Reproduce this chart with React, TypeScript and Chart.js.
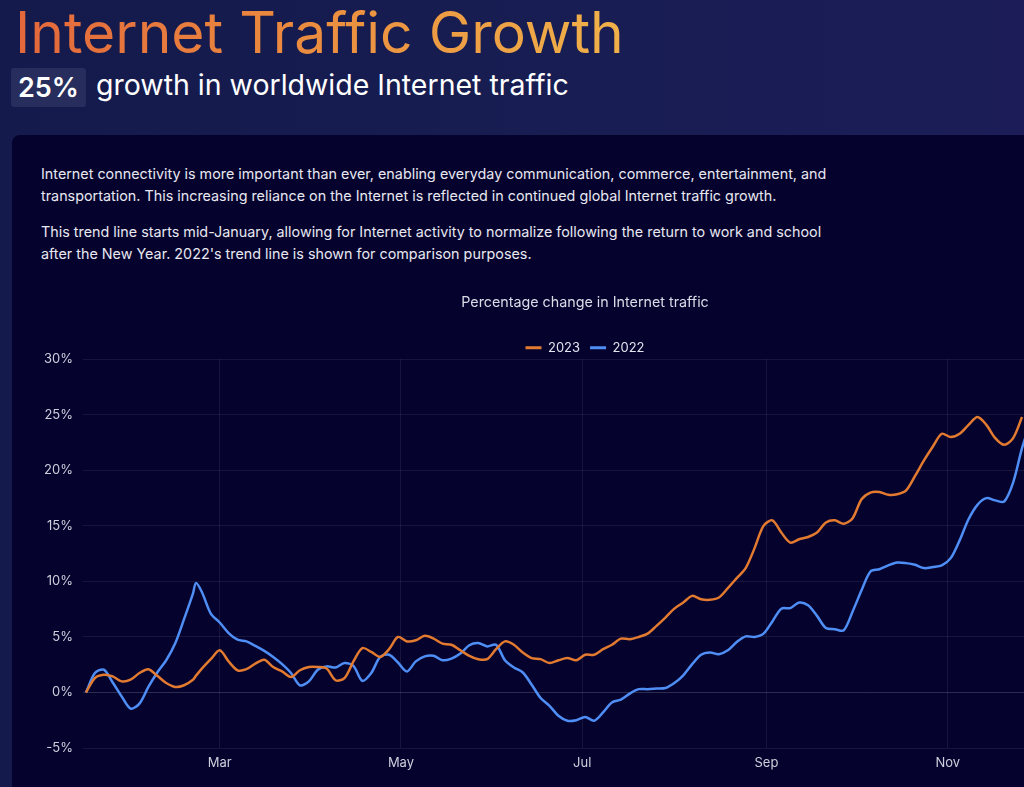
import { useEffect, useRef } from "react";
import { Chart, registerables } from "chart.js";

Chart.register(...registerables);

// Day of year (Jan 1 = 0) for each sample
const days = [
  14, 17, 20, 23, 26, 29, 32, 35, 38, 41, 44, 47, 50, 51, 53, 56, 59, 62, 65, 68,
  71, 74, 77, 80, 83, 86, 89, 92, 95, 98, 101, 104, 107, 110, 113, 116, 119, 122, 125, 128,
  131, 134, 137, 140, 143, 146, 149, 152, 155, 158, 161, 164, 167, 170, 173, 176, 179, 182, 185, 188,
  191, 194, 197, 200, 203, 206, 209, 212, 215, 218, 221, 224, 227, 230, 233, 236, 239, 242, 245, 248,
  251, 254, 257, 260, 263, 266, 269, 272, 275, 278, 281, 284, 287, 290, 293, 296, 299, 302, 305, 308,
  311, 314, 317, 320, 323, 326, 329, 332,
];

const traffic2023: (number | null)[] = [
  0.0, 1.3, 1.6, 1.45, 1.0, 1.15, 1.75, 2.1, 1.5, 0.85, 0.5, 0.65, 1.15, 1.5, 2.15, 3.0, 3.8, 2.8, 2.0, 2.1,
  2.6, 2.95, 2.3, 1.9, 1.4, 2.0, 2.3, 2.3, 2.15, 1.1, 1.3, 2.8, 4.0, 3.65, 3.2, 3.9, 5.0, 4.6, 4.7, 5.1,
  4.85, 4.4, 4.3, 3.8, 3.3, 3.0, 3.0, 3.9, 4.6, 4.3, 3.6, 3.1, 3.0, 2.65, 2.9, 3.1, 2.9, 3.4, 3.4, 3.9,
  4.3, 4.85, 4.8, 5.0, 5.3, 6.0, 6.75, 7.55, 8.1, 8.7, 8.4, 8.35, 8.55, 9.4, 10.3, 11.2, 13.0, 15.0, 15.5, 14.4,
  13.5, 13.8, 14.0, 14.4, 15.3, 15.5, 15.2, 15.7, 17.4, 18.0, 18.05, 17.8, 17.85, 18.2, 19.5, 20.9, 22.15, 23.3, 23.0, 23.3,
  24.1, 24.8, 24.1, 22.9, 22.3, 22.9, 24.8, null,
];

const traffic2022: number[] = [
  0.0, 1.75, 2.05, 0.9, -0.35, -1.45, -1.0, 0.5, 1.8, 2.9, 4.4, 6.6, 8.9, 9.85, 9.05, 7.1, 6.3, 5.35, 4.75, 4.6,
  4.2, 3.75, 3.2, 2.55, 1.75, 0.65, 1.0, 2.05, 2.35, 2.25, 2.65, 2.4, 1.05, 1.75, 3.2, 3.4, 2.7, 1.9, 2.8, 3.25,
  3.3, 2.9, 3.05, 3.5, 4.25, 4.45, 4.15, 4.3, 2.9, 2.25, 1.8, 0.7, -0.5, -1.2, -2.1, -2.55, -2.5, -2.2, -2.55, -1.8,
  -0.9, -0.65, -0.1, 0.3, 0.3, 0.35, 0.4, 0.85, 1.55, 2.55, 3.4, 3.6, 3.45, 3.8, 4.55, 5.05, 5.0, 5.3, 6.4, 7.55,
  7.6, 8.1, 7.85, 6.9, 5.8, 5.7, 5.6, 7.3, 9.2, 10.9, 11.1, 11.45, 11.7, 11.65, 11.5, 11.2, 11.3, 11.45, 12.1, 13.7,
  15.6, 16.9, 17.5, 17.3, 17.2, 18.9, 22.0, 24.5,
];

const monthTickDays = [59, 120, 181, 243, 304];
const monthTickLabels = ["Mar", "May", "Jul", "Sep", "Nov"];
const yTickValues = [-5, 0, 5, 10, 15, 20, 25, 30];
const seriesLabels = ["2023", "2022"];

const FONT = "Inter, 'Noto Sans', sans-serif";

function TrafficChart() {
  const ref = useRef<HTMLCanvasElement | null>(null);

  useEffect(() => {
    if (!ref.current) return;
    const legendHeightPlugin = {
      id: "legendHeight",
      beforeLayout(chart: any) {
        const legend = chart.legend;
        if (legend && !legend.__patched) {
          const fit = legend.fit;
          legend.fit = function () {
            fit.call(this);
            this.height = 28;
          };
          legend.__patched = true;
        }
      },
    };
    const gridColor = "rgba(255,255,255,0.075)";
    const chart = new Chart(ref.current, {
      type: "line",
      data: {
        datasets: [
          {
            label: seriesLabels[0],
            data: days.map((d, i) => ({ x: d, y: traffic2023[i] })) as any,
            borderColor: "#e27a30",
            backgroundColor: "#e27a30",
            borderWidth: 2.5,
            pointRadius: 0,
            tension: 0.3,
            spanGaps: false,
          },
          {
            label: seriesLabels[1],
            data: days.map((d, i) => ({ x: d, y: traffic2022[i] })) as any,
            borderColor: "#4f8ef5",
            backgroundColor: "#4f8ef5",
            borderWidth: 2.5,
            pointRadius: 0,
            tension: 0.3,
          },
        ],
      },
      options: {
        responsive: false,
        animation: false,
        devicePixelRatio: 1,
        layout: { padding: 0 },
        plugins: {
          title: {
            display: true,
            text: "Percentage change in Internet traffic",
            color: "#dcdce8",
            font: { family: FONT, size: 14.3, weight: "normal" },
            padding: { top: 14.6, bottom: 19.6 },
          },
          legend: {
            display: true,
            labels: {
              color: "#e4e4ee",
              font: { family: FONT, size: 13 },
              boxWidth: 16,
              boxHeight: 3,
              padding: 10,
              generateLabels(chart: any) {
                const items = Chart.defaults.plugins.legend.labels.generateLabels(chart);
                return items.map((it: any) => ({ ...it, lineWidth: 0 }));
              },
            },
          },
          tooltip: { enabled: false },
        },
        scales: {
          x: {
            type: "linear",
            min: 13,
            max: 365,
            afterBuildTicks(scale: any) {
              scale.ticks = monthTickDays.map((v) => ({ value: v }));
            },
            afterFit(scale: any) {
              scale.height = 30;
            },
            ticks: {
              autoSkip: false,
              maxRotation: 0,
              padding: 7,
              color: "#cfcfdc",
              font: { family: FONT, size: 13 },
              callback(value: any) {
                const idx = monthTickDays.indexOf(Number(value));
                return idx >= 0 ? monthTickLabels[idx] : "";
              },
            },
            grid: { color: gridColor, drawTicks: false },
            border: { display: false },
          },
          y: {
            type: "linear",
            min: -5,
            max: 30,
            afterBuildTicks(scale: any) {
              scale.ticks = yTickValues.map((v) => ({ value: v }));
            },
            afterFit(scale: any) {
              scale.width = 42;
            },
            ticks: {
              padding: 10,
              color: "#cfcfdc",
              font: { family: FONT, size: 13 },
              callback(value: any) {
                return value + "%";
              },
            },
            grid: {
              drawTicks: false,
              color: (ctx: any) =>
                ctx.tick && ctx.tick.value === 0 ? "rgba(255,255,255,0.16)" : gridColor,
            },
            border: { display: false },
          },
        },
      },
      plugins: [legendHeightPlugin],
    } as any);
    return () => chart.destroy();
  }, []);

  return <canvas ref={ref} width={1088} height={498} style={{ display: "block" }} />;
}

export default function App() {
  return (
    <div
      style={{
        position: "fixed",
        left: 0,
        top: 0,
        width: "100vw",
        height: "100vh",
        overflow: "hidden",
        background: "linear-gradient(90deg, #141a4b 0%, #181d53 60%, #1c1d58 100%)",
        fontFamily: FONT,
      }}
    >
      <div
        style={{
          position: "absolute",
          left: 15,
          top: 4,
          fontSize: 57,
          lineHeight: "57px",
          fontWeight: 400,
          whiteSpace: "nowrap",
          background: "linear-gradient(90deg, #e3673c 0%, #ea8a3f 45%, #f0b24a 100%)",
          WebkitBackgroundClip: "text",
          backgroundClip: "text",
          color: "transparent",
        }}
      >
        Internet Traffic Growth
      </div>
      <div
        style={{
          position: "absolute",
          left: 11,
          top: 68,
          width: 75,
          height: 39,
          background: "#272d5c",
          borderRadius: 3,
          color: "#ffffff",
          fontSize: 27,
          fontWeight: 600,
          lineHeight: "39px",
          textAlign: "center",
        }}
      >
        25%
      </div>
      <div
        style={{
          position: "absolute",
          left: 96,
          top: 70.5,
          fontSize: 28.5,
          lineHeight: "28px",
          color: "#ffffff",
          whiteSpace: "nowrap",
        }}
      >
        growth in worldwide Internet traffic
      </div>
      <div
        style={{
          position: "absolute",
          left: 12,
          top: 135,
          width: 1146,
          height: 700,
          background: "#05022e",
          borderRadius: 8,
        }}
      >
        <div
          style={{
            position: "absolute",
            left: 29,
            top: 28,
            width: 800,
            fontSize: 14.35,
            lineHeight: "22px",
            color: "#e8e8f0",
          }}
        >
          <p style={{ margin: "0 0 14px 0" }}>
            Internet connectivity is more important than ever, enabling everyday communication, commerce,
            entertainment, and transportation. This increasing reliance on the Internet is reflected in continued
            global Internet traffic growth.
          </p>
          <p style={{ margin: 0 }}>
            This trend line starts mid-January, allowing for Internet activity to normalize following the return to
            work and school after the New Year. 2022's trend line is shown for comparison purposes.
          </p>
        </div>
        <div style={{ position: "absolute", left: 29, top: 145 }}>
          <TrafficChart />
        </div>
      </div>
    </div>
  );
}
